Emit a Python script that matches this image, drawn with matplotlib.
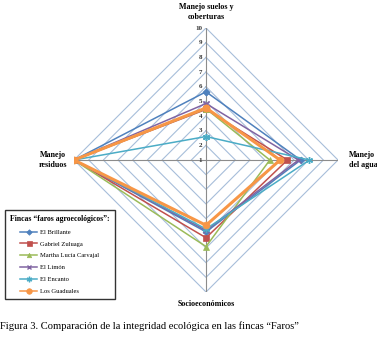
import numpy as np
import matplotlib
matplotlib.use("Agg")
import matplotlib.pyplot as plt

plt.rcParams['font.family'] = ['Liberation Serif', 'DejaVu Serif']

# Axes of the radar, clockwise from the top
axes_names = ['Manejo suelos y\ncoberturas', 'Manejo\ndel agua', 'Socioeconómicos', 'Manejo\nresiduos']

fincas = ['El Brillante', 'Gabriel Zuluaga', 'Martha Lucía Carvajal',
          'El Limón', 'El Encanto', 'Los Guaduales']

# values per finca: suelos, agua, socio, residuos
el_brillante = [5.65, 7.45, 5.9, 10]
gabriel_zuluaga = [4.45, 6.55, 6.3, 10]
martha_lucia = [4.5, 5.35, 6.9, 10]
el_limon = [4.85, 7.3, 5.8, 10]
el_encanto = [2.6, 8.05, 5.7, 10]
los_guaduales = [4.55, 6.05, 5.45, 10]

series = [el_brillante, gabriel_zuluaga, martha_lucia, el_limon, el_encanto, los_guaduales]
colors = ['#4F81BD', '#C0504D', '#9BBB59', '#8064A2', '#4BACC6', '#F79646']
markers = ['D', 's', '^', 'x', (6, 2, 0), 'o']
msizes = [3.5, 4.5, 4, 4, 5, 5]

rmin, rmax = 1, 10
ticks = np.arange(1, 11)

# unit direction per axis: up, right, down, left
angles = np.pi / 2 - np.arange(4) * np.pi / 2
dx, dy = np.cos(angles), np.sin(angles)

fig = plt.figure(figsize=(3.77, 3.37), dpi=100)
ax = fig.add_axes([0.1963, 0.1335, 0.7003, 0.7834])
span = rmax - rmin
ax.set_xlim(-span, span)
ax.set_ylim(-span, span)
ax.axis('off')

# diamond grid
for t in ticks[1:]:
    r = t - rmin
    gx = np.append(r * dx, r * dx[0])
    gy = np.append(r * dy, r * dy[0])
    ax.plot(gx, gy, color='#A7BEDA', lw=0.8, zorder=1)

# spokes
for i in range(4):
    ax.plot([0, span * dx[i]], [0, span * dy[i]], color='#8C8C8C', lw=0.8, zorder=1)

# tick labels along the top spoke
for t in ticks:
    ax.text(-0.25, t - rmin, str(t), ha='right', va='center', fontsize=5,
            fontweight='bold', color='#333333')

for name, vals, c, m, ms in zip(fincas, series, colors, markers, msizes):
    r = np.array(vals) - rmin
    px = np.append(r * dx, r[0] * dx[0])
    py = np.append(r * dy, r[0] * dy[0])
    lw = 2.2 if name == 'Los Guaduales' else 1.1
    thin_marker = m == 'x' or isinstance(m, tuple)
    ax.plot(px, py, color=c, lw=lw, marker=m, ms=ms, mew=1.0 if thin_marker else 0.5,
            label=name, zorder=3)

# axis labels
fig.text(0.5464, 0.99, axes_names[0], ha='center', va='top', fontsize=5.8, fontweight='bold',
         linespacing=1.2)
fig.text(0.925, 0.525, axes_names[1], ha='left', va='center', fontsize=5.8, fontweight='bold',
         linespacing=1.2)
fig.text(0.5464, 0.098, axes_names[2], ha='center', va='center', fontsize=5.8, fontweight='bold')
fig.text(0.14, 0.525, axes_names[3], ha='center', va='center', fontsize=5.8, fontweight='bold',
         linespacing=1.2)

leg = ax.legend(loc='upper left', bbox_to_anchor=(0.013, 0.377), bbox_transform=fig.transFigure,
                title='Fincas “faros agroecológicos”:', fontsize=4.7, frameon=True,
                fancybox=False, edgecolor='black', borderpad=0.8, labelspacing=0.95,
                handlelength=2.6, handletextpad=0.5, borderaxespad=0, markerscale=0.8)
leg.get_title().set_fontsize(5.6)
leg.get_title().set_fontweight('bold')
leg.get_frame().set_linewidth(1.0)
for line in leg.get_lines():
    line.set_linewidth(1.1)

fig.text(0.0, 0.032, 'Figura 3. Comparación de la integridad ecológica en las fincas “Faros”',
         ha='left', va='center', fontsize=7.6)

plt.savefig('out.png', dpi=100)
plt.close(fig)
